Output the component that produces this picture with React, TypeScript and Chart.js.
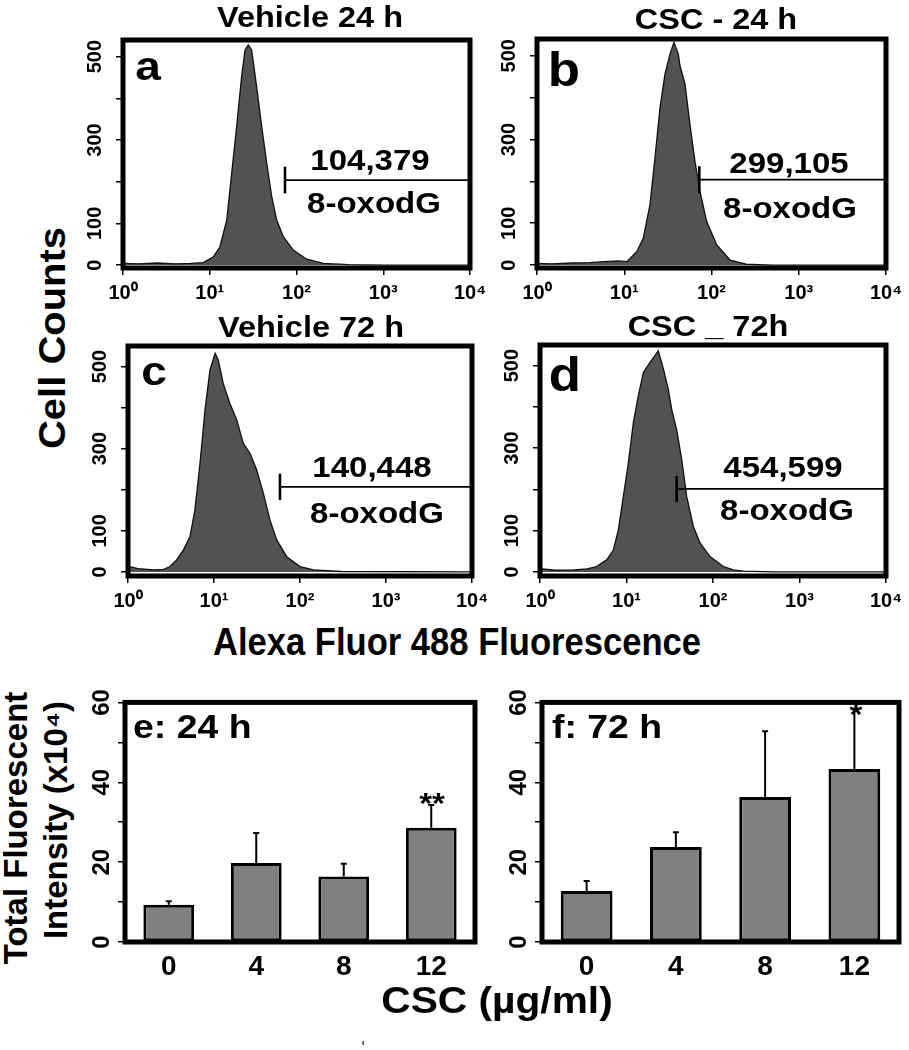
import React, { useEffect, useRef } from 'react';
import { Chart, registerables } from 'chart.js';

Chart.register(...registerables);

const FONT = '"Liberation Sans", Arial, Helvetica, sans-serif';

// ---- Flow cytometry histograms: fluorescence (x, log) vs cell counts (y) ----
const DECADES = [1, 10, 100, 1000, 10000];
const SUPERSCRIPTS = ['⁰', '¹', '²', '³', '⁴'];
const COUNT_TICKS = [0, 100, 200, 300, 400, 500];
const COUNT_LABELS = [0, 100, 300, 500];

const VEH24_X = [1, 1.5, 2.5, 4, 6, 8.4, 11.0, 13.1, 15.7, 17.9, 20.4, 23.3, 25.5, 27.8, 30.4, 34.7, 39.7, 45.4, 51.8, 59.1, 70.5, 91.8, 131, 204, 400, 1000, 10000];
const VEH24_Y = [4, 3, 5, 3, 4, 6, 20, 44, 108, 220, 332, 452, 516, 528, 516, 428, 332, 244, 164, 108, 68, 36, 14, 4, 1, 0, 0];

const CSC24_X = [1, 1.5, 2.5, 4, 6, 8.5, 10.7, 13.9, 16.5, 19.7, 22.5, 25.7, 29.3, 33.4, 37.1, 41.7, 43.5, 49.7, 56.6, 64.6, 73.8, 88.1, 115, 163, 251, 500, 10000];
const CSC24_Y = [4, 3, 5, 6, 8, 10, 8, 32, 64, 144, 256, 376, 456, 504, 532, 504, 476, 432, 336, 248, 176, 104, 48, 12, 2, 0, 0];

const VEH72_X = [1, 1.3, 2, 2.6, 3.08, 3.68, 4.4, 5.26, 6.0, 6.87, 7.86, 8.98, 10.3, 11.2, 12.8, 15.3, 18.4, 21.9, 26.2, 31.4, 37.5, 44.8, 53.6, 70, 100, 143, 300, 10000];
const VEH72_Y = [14, 8, 5, 6, 13, 29, 53, 86, 151, 264, 394, 492, 532, 516, 459, 410, 370, 313, 289, 248, 191, 126, 78, 37, 13, 5, 1, 0];

const CSC72_X = [1, 1.5, 2.5, 3.5, 4.5, 5.9, 7.05, 8.05, 9.2, 10.5, 12.0, 13.7, 15.7, 18.7, 21.3, 23.3, 26.7, 30.4, 33.3, 38.0, 43.5, 49.6, 59.3, 70.8, 92.3, 132, 172, 224, 500, 10000];
const CSC72_Y = [8, 4, 5, 7, 13, 29, 53, 102, 183, 264, 362, 427, 484, 508, 524, 536, 492, 443, 394, 345, 272, 183, 110, 70, 37, 13, 5, 2, 0, 0];

// gate marker (start fluorescence, count level) and the gated totals
const GATE_X = [73.7, 72.5, 58.5, 38];
const GATE_Y = [204, 204, 207, 201];
const GATE_HALF = 32;
const GATE_TOTALS = ['104,379', '299,105', '140,448', '454,599'];

// ---- Bar charts: total fluorescent intensity (x10^4) ----
const DOSES = ['0', '4', '8', '12'];
const MEAN_24H = [9.3, 19.8, 16.4, 28.6];
const ERR_24H = [0.9, 7.5, 3.2, 5.7];
const MEAN_72H = [12.8, 23.8, 36.3, 43.3];
const ERR_72H = [2.5, 3.7, 16.5, 15.0];
const INTENSITY_TICKS = [0, 10, 20, 30, 40, 50, 60];

const framePlugin = {
  id: 'frame',
  afterDraw(chart: any) {
    const { ctx, chartArea: a } = chart;
    ctx.save();
    ctx.strokeStyle = '#000';
    ctx.lineWidth = 5;
    ctx.strokeRect(a.left, a.top, a.right - a.left, a.bottom - a.top);
    ctx.restore();
  },
};

type HistProps = {
  left: number; top: number; right: number; bottom: number;
  xs: number[]; ys: number[]; gateX: number; gateY: number; yMin: number; yMax: number;
};

function Histogram(p: HistProps) {
  const ref = useRef<HTMLCanvasElement>(null);
  const yW = 50, padTop = 16, padRight = 26, xH = 44;
  const w = yW + (p.right - p.left) + padRight;
  const h = padTop + (p.bottom - p.top) + xH;
  useEffect(() => {
    const chart = new Chart(ref.current as HTMLCanvasElement, {
      type: 'line',
      data: {
        datasets: [
          {
            data: p.xs.map((x, i) => ({ x, y: p.ys[i] })),
            fill: 'origin', backgroundColor: '#525252', borderColor: '#111111',
            borderWidth: 1.3, pointRadius: 0, order: 2,
          },
          {
            data: [{ x: p.gateX, y: p.gateY }, { x: 10000, y: p.gateY }],
            borderColor: '#000', borderWidth: 1.8, pointRadius: 0, fill: false, order: 1,
          },
          {
            data: [{ x: p.gateX, y: p.gateY - GATE_HALF }, { x: p.gateX, y: p.gateY + GATE_HALF }],
            borderColor: '#000', borderWidth: 2.6, pointRadius: 0, fill: false, order: 1,
          },
        ],
      } as any,
      options: {
        responsive: false,
        animation: false,
        layout: { padding: { top: padTop, right: padRight, left: 0, bottom: 0 } },
        plugins: { legend: { display: false }, tooltip: { enabled: false }, title: { display: false } },
        scales: {
          x: {
            type: 'logarithmic', min: 1, max: 10000,
            afterBuildTicks: (s: any) => { s.ticks = DECADES.map((v) => ({ value: v })); },
            afterFit: (s: any) => { s.height = xH; },
            grid: { drawOnChartArea: false, drawTicks: true, tickLength: 7, color: '#000', lineWidth: 1.5 },
            border: { display: false },
            ticks: {
              callback: (v: any) => '10' + SUPERSCRIPTS[Math.round(Math.log10(Number(v)))],
              font: { family: FONT, size: 20, weight: 'bold' }, color: '#000', padding: 6,
              maxRotation: 0, autoSkip: false,
            },
          },
          y: {
            type: 'linear', min: p.yMin, max: p.yMax,
            afterBuildTicks: (s: any) => { s.ticks = COUNT_TICKS.map((v) => ({ value: v })); },
            afterFit: (s: any) => { s.width = yW; },
            grid: { drawOnChartArea: false, drawTicks: true, tickLength: 7, color: '#000', lineWidth: 1.5 },
            border: { display: false },
            ticks: {
              callback: (v: any) => (COUNT_LABELS.includes(Number(v)) ? String(v) : ''),
              minRotation: 90, maxRotation: 90, crossAlign: 'center', autoSkip: false,
              font: { family: FONT, size: 20, weight: 'bold' }, color: '#000', padding: 4,
            },
          },
        },
      } as any,
      plugins: [framePlugin],
    });
    return () => chart.destroy();
  }, []);
  return (
    <canvas ref={ref} width={w} height={h}
      style={{ position: 'absolute', left: p.left - yW, top: p.top - padTop, width: w, height: h }} />
  );
}

type BarProps = { left: number; top: number; right: number; bottom: number; means: number[]; errs: number[] };

function Bars(p: BarProps) {
  const ref = useRef<HTMLCanvasElement>(null);
  const yW = 50, padTop = 16, padRight = 8, xH = 50;
  const w = yW + (p.right - p.left) + padRight;
  const h = padTop + (p.bottom - p.top) + xH;
  useEffect(() => {
    const errPlugin = {
      id: 'errbars',
      afterDatasetsDraw(chart: any) {
        const { ctx, scales } = chart;
        const xs = scales.x, ys = scales.y;
        ctx.save();
        ctx.strokeStyle = '#000';
        ctx.lineWidth = 2;
        p.means.forEach((m, i) => {
          const px = xs.getPixelForValue(i);
          const y0 = ys.getPixelForValue(m);
          const y1 = ys.getPixelForValue(m + p.errs[i]);
          ctx.beginPath();
          ctx.moveTo(px, y0);
          ctx.lineTo(px, y1);
          ctx.moveTo(px - 3, y1);
          ctx.lineTo(px + 3, y1);
          ctx.stroke();
        });
        ctx.restore();
      },
    };
    const chart = new Chart(ref.current as HTMLCanvasElement, {
      type: 'bar',
      data: {
        labels: DOSES,
        datasets: [{
          data: p.means, backgroundColor: '#808080', borderColor: '#000', borderWidth: 3,
          borderSkipped: false, barPercentage: 0.58, categoryPercentage: 1,
        }],
      },
      options: {
        responsive: false,
        animation: false,
        layout: { padding: { top: padTop, right: padRight, left: 0, bottom: 0 } },
        plugins: { legend: { display: false }, tooltip: { enabled: false }, title: { display: false } },
        scales: {
          x: {
            grid: { display: false, drawTicks: false },
            border: { display: false },
            afterFit: (s: any) => { s.height = xH; },
            ticks: { font: { family: FONT, size: 28, weight: 'bold' }, color: '#000', padding: 8, maxRotation: 0 },
          },
          y: {
            min: 0, max: 60,
            afterBuildTicks: (s: any) => { s.ticks = INTENSITY_TICKS.map((v) => ({ value: v })); },
            afterFit: (s: any) => { s.width = yW; },
            grid: { drawOnChartArea: false, drawTicks: true, tickLength: 7, color: '#000', lineWidth: 1.5 },
            border: { display: false },
            ticks: {
              callback: (v: any) => (Number(v) % 20 === 0 ? String(v) : ''),
              minRotation: 90, maxRotation: 90, crossAlign: 'center', autoSkip: false,
              font: { family: FONT, size: 24, weight: 'bold' }, color: '#000', padding: 2,
            },
          },
        },
      } as any,
      plugins: [errPlugin, framePlugin],
    });
    return () => chart.destroy();
  }, []);
  return (
    <canvas ref={ref} width={w} height={h}
      style={{ position: 'absolute', left: p.left - yW, top: p.top - padTop, width: w, height: h }} />
  );
}

type TxtProps = { x: number; base: number; size: number; text: string; sx?: number; align?: 'center' | 'left' };

function Txt({ x, base, size, text, sx = 1, align = 'center' }: TxtProps) {
  return (
    <div style={{
      position: 'absolute', left: x, top: base - 0.8465 * size,
      font: `bold ${size}px ${FONT}`, lineHeight: `${size}px`, whiteSpace: 'nowrap', color: '#000',
      transform: `${align === 'center' ? 'translateX(-50%) ' : ''}scaleX(${sx})`,
      transformOrigin: align === 'center' ? 'center' : 'left center',
    }}>{text}</div>
  );
}

function RotTxt({ cx, cy, size, text, sx = 1 }: { cx: number; cy: number; size: number; text: string; sx?: number }) {
  return (
    <div style={{
      position: 'absolute', left: cx, top: cy,
      font: `bold ${size}px ${FONT}`, lineHeight: `${size}px`, whiteSpace: 'nowrap', color: '#000',
      transform: `translate(-50%, -50%) rotate(-90deg) scaleX(${sx})`,
    }}>{text}</div>
  );
}

export default function App() {
  const row1 = { yMin: -7, yMax: 540 };
  const row2 = { yMin: -10, yMax: 550 };
  return (
    <div style={{ position: 'absolute', left: 0, top: 0, width: 909, height: 1050, overflow: 'hidden', background: '#fff' }}>
      <Histogram left={123} top={40} right={470} bottom={268} xs={VEH24_X} ys={VEH24_Y} gateX={GATE_X[0]} gateY={GATE_Y[0]} {...row1} />
      <Histogram left={537} top={39} right={886} bottom={268} xs={CSC24_X} ys={CSC24_Y} gateX={GATE_X[1]} gateY={GATE_Y[1]} {...row1} />
      <Histogram left={128} top={346} right={472} bottom={576} xs={VEH72_X} ys={VEH72_Y} gateX={GATE_X[2]} gateY={GATE_Y[2]} {...row2} />
      <Histogram left={540} top={345} right={886} bottom={576} xs={CSC72_X} ys={CSC72_Y} gateX={GATE_X[3]} gateY={GATE_Y[3]} {...row2} />
      <Bars left={125} top={702} right={475} bottom={942} means={MEAN_24H} errs={ERR_24H} />
      <Bars left={542} top={702} right={899} bottom={942} means={MEAN_72H} errs={ERR_72H} />

      <Txt x={310} base={28} size={29} sx={1.12} text="Vehicle 24 h" />
      <Txt x={716} base={30} size={29} sx={1.12} text="CSC - 24 h" />
      <Txt x={311} base={338} size={29} sx={1.12} text="Vehicle 72 h" />
      <Txt x={708} base={337} size={29} sx={1.12} text="CSC _ 72h" />

      <Txt x={148} base={80} size={40} sx={1.15} text="a" />
      <Txt x={564} base={87} size={48} sx={1.1} text="b" />
      <Txt x={154} base={385} size={40} sx={1.15} text="c" />
      <Txt x={565} base={392} size={48} sx={1.1} text="d" />

      <Txt x={370} base={170} size={30} sx={1.1} text={GATE_TOTALS[0]} />
      <Txt x={374} base={213} size={30} sx={1.1} text="8-oxodG" />
      <Txt x={789} base={173} size={30} sx={1.1} text={GATE_TOTALS[1]} />
      <Txt x={790} base={218} size={30} sx={1.1} text="8-oxodG" />
      <Txt x={372} base={477} size={30} sx={1.1} text={GATE_TOTALS[2]} />
      <Txt x={377} base={523} size={30} sx={1.1} text="8-oxodG" />
      <Txt x={783} base={477} size={30} sx={1.1} text={GATE_TOTALS[3]} />
      <Txt x={787} base={520} size={30} sx={1.1} text="8-oxodG" />

      <RotTxt cx={52} cy={338} size={37} sx={1.08} text="Cell Counts" />
      <Txt x={456.5} base={655} size={38} sx={0.91} text="Alexa Fluor 488 Fluorescence" />

      <Txt x={133} base={738} size={34} sx={1.1} align="left" text="e: 24 h" />
      <Txt x={552} base={738} size={34} sx={1.1} align="left" text="f: 72 h" />
      <Txt x={432} base={813} size={30} sx={1.1} text="**" />
      <Txt x={855.5} base={724.5} size={30} sx={1.1} text="*" />

      <RotTxt cx={15} cy={827.5} size={33} text="Total Fluorescent" />
      <RotTxt cx={55} cy={820} size={33} text="Intensity (x10⁴)" />
      <Txt x={497} base={1013} size={37} sx={1.1} text="CSC (µg/ml)" />
      <Txt x={363} base={1046} size={8} text="ı" />
    </div>
  );
}
